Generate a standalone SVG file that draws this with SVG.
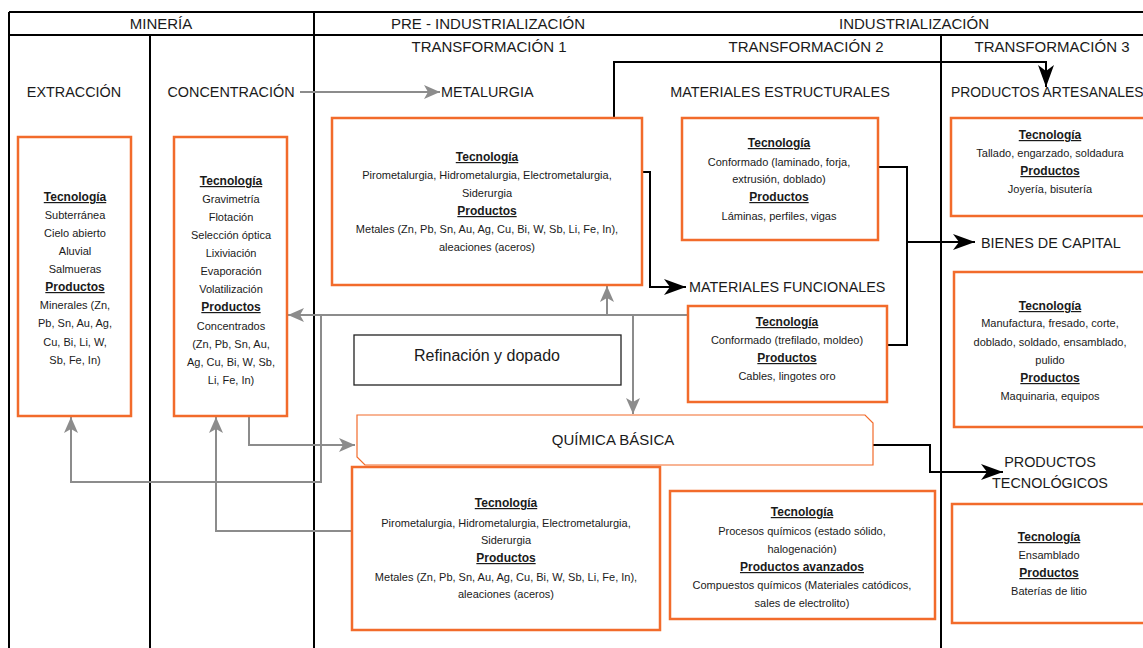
<svg xmlns="http://www.w3.org/2000/svg" width="1143" height="648" viewBox="0 0 1143 648">
<style>
text{font-family:"Liberation Sans",Arial,sans-serif;fill:#1a1a1a;text-anchor:middle}
.hd{font-size:15px}
.lb{font-size:14.4px}
.b{font-size:11px}
.h{font-size:12px;font-weight:bold;text-decoration:underline}
.box{fill:#fff;stroke:#F26B2B;stroke-width:2.5}
.frame{stroke:#000;stroke-width:2;fill:none}
.g{stroke:#8C8C8C;stroke-width:2;fill:none}
.k{stroke:#000;stroke-width:2;fill:none}
</style>
<defs>
<marker id="ag" markerUnits="userSpaceOnUse" markerWidth="18" markerHeight="16" refX="16" refY="7" orient="auto">
<path d="M0,0 L16,7 L0,14 L4,7 z" fill="#8C8C8C"/>
</marker>
<marker id="ak" markerUnits="userSpaceOnUse" markerWidth="24" markerHeight="18" refX="22" refY="8" orient="auto">
<path d="M0,0 L22,8 L0,16 L6,8 z" fill="#000"/>
</marker>
</defs>
<rect width="1143" height="648" fill="#fff"/>
<g id="frame" class="frame">
<path d="M9,12 H1143 M9,35 H1143 M9,12 V648 M150,35 V648 M314,12 V648 M941,35 V648"/>
</g>
<g id="headers">
<text class="hd" x="161" y="29">MINERÍA</text>
<text class="hd" x="488" y="29">PRE - INDUSTRIALIZACIÓN</text>
<text class="hd" x="914" y="29">INDUSTRIALIZACIÓN</text>
<text class="hd" x="489" y="52">TRANSFORMACIÓN 1</text>
<text class="hd" x="806" y="52">TRANSFORMACIÓN 2</text>
<text class="hd" x="1052" y="52">TRANSFORMACIÓN 3</text>
</g>
<g id="connectors">
<path class="g" d="M300,92 H440" marker-end="url(#ag)"/>
<path class="g" d="M688,315 H288" marker-end="url(#ag)"/>
<path class="g" d="M607,315 V286" marker-end="url(#ag)"/>
<path class="g" d="M633,315 V414" marker-end="url(#ag)"/>
<path class="g" d="M321,315 V482 H71 V417" marker-end="url(#ag)"/>
<path class="g" d="M249,416 V445 H355" marker-end="url(#ag)"/>
<path class="g" d="M352,531 H216 V417" marker-end="url(#ag)"/>
<path class="k" d="M614,118 V62 H1046 V87" marker-end="url(#ak)"/>
<path class="k" d="M642,172 H650 V287 H686" marker-end="url(#ak)"/>
<path class="k" d="M878,167 H907 V345 H887"/>
<path class="k" d="M907,242 H975" marker-end="url(#ak)"/>
<path class="k" d="M872,445 H930 V472 H1003" marker-end="url(#ak)"/>
</g>
<g id="extraccion">
<text class="lb" x="74" y="97">EXTRACCIÓN</text>
<rect class="box" x="18" y="137" width="113" height="279"/>
<text class="h" x="75" y="201">Tecnología</text>
<text class="b" x="75" y="219">Subterránea</text>
<text class="b" x="75" y="237">Cielo abierto</text>
<text class="b" x="75" y="255">Aluvial</text>
<text class="b" x="75" y="273">Salmueras</text>
<text class="h" x="75" y="291">Productos</text>
<text class="b" x="75" y="309">Minerales (Zn,</text>
<text class="b" x="75" y="327">Pb, Sn, Au, Ag,</text>
<text class="b" x="75" y="346">Cu, Bi, Li, W,</text>
<text class="b" x="75" y="364">Sb, Fe, In)</text>
</g>
<g id="concentracion">
<text class="lb" x="231" y="97">CONCENTRACIÓN</text>
<rect class="box" x="174" y="137" width="113" height="279"/>
<text class="h" x="231" y="185">Tecnología</text>
<text class="b" x="231" y="203">Gravimetría</text>
<text class="b" x="231" y="221">Flotación</text>
<text class="b" x="231" y="239">Selección óptica</text>
<text class="b" x="231" y="257">Lixiviación</text>
<text class="b" x="231" y="275">Evaporación</text>
<text class="b" x="231" y="293">Volatilización</text>
<text class="h" x="231" y="311">Productos</text>
<text class="b" x="231" y="330">Concentrados</text>
<text class="b" x="231" y="348">(Zn, Pb, Sn, Au,</text>
<text class="b" x="231" y="366">Ag, Cu, Bi, W, Sb,</text>
<text class="b" x="231" y="384">Li, Fe, In)</text>
</g>
<g id="metalurgia">
<text class="lb" x="441" y="97" style="text-anchor:start">METALURGIA</text>
<rect class="box" x="332" y="118" width="310" height="167"/>
<text class="h" x="487" y="161">Tecnología</text>
<text class="b" x="487" y="179">Pirometalurgia, Hidrometalurgia, Electrometalurgia,</text>
<text class="b" x="487" y="197">Siderurgia</text>
<text class="h" x="487" y="215">Productos</text>
<text class="b" x="487" y="233">Metales (Zn, Pb, Sn, Au, Ag, Cu, Bi, W, Sb, Li, Fe, In),</text>
<text class="b" x="487" y="251">aleaciones (aceros)</text>
</g>
<g id="mat-estructurales">
<text class="lb" x="780" y="97">MATERIALES ESTRUCTURALES</text>
<rect class="box" x="682" y="118" width="196" height="122"/>
<text class="h" x="779" y="147">Tecnología</text>
<text class="b" x="779" y="166">Conformado (laminado, forja,</text>
<text class="b" x="779" y="183">extrusión, doblado)</text>
<text class="h" x="779" y="201">Productos</text>
<text class="b" x="779" y="220">Láminas, perfiles, vigas</text>
</g>
<g id="prod-artesanales">
<text x="951" y="97" style="text-anchor:start;font-size:13.9px">PRODUCTOS ARTESANALES</text>
<rect class="box" x="951" y="118" width="200" height="98"/>
<text class="h" x="1050" y="139">Tecnología</text>
<text class="b" x="1050" y="157">Tallado, engarzado, soldadura</text>
<text class="h" x="1050" y="175">Productos</text>
<text class="b" x="1050" y="193">Joyería, bisutería</text>
</g>
<g id="bienes-capital">
<text class="lb" x="981" y="248" style="text-anchor:start">BIENES DE CAPITAL</text>
<rect class="box" x="954" y="272" width="200" height="155"/>
<text class="h" x="1050" y="310">Tecnología</text>
<text class="b" x="1050" y="327">Manufactura, fresado, corte,</text>
<text class="b" x="1050" y="346">doblado, soldado, ensamblado,</text>
<text class="b" x="1050" y="364">pulido</text>
<text class="h" x="1050" y="382">Productos</text>
<text class="b" x="1050" y="400">Maquinaria, equipos</text>
</g>
<g id="mat-funcionales">
<text class="lb" x="689" y="292" style="text-anchor:start">MATERIALES FUNCIONALES</text>
<rect class="box" x="688" y="306" width="199" height="96"/>
<text class="h" x="787" y="326">Tecnología</text>
<text class="b" x="787" y="344">Conformado (trefilado, moldeo)</text>
<text class="h" x="787" y="362">Productos</text>
<text class="b" x="787" y="380">Cables, lingotes oro</text>
</g>
<g id="refinacion">
<rect x="354" y="335" width="267" height="50" fill="#fff" stroke="#222" stroke-width="1.3"/>
<text x="487" y="361" style="font-size:16px">Refinación y dopado</text>
</g>
<g id="quimica-basica">
<polygon points="357,415 865,415 873,423 873,465 365,465 357,457" fill="#fff" stroke="#F26B2B" stroke-width="1.2"/>
<text x="613" y="444.5" style="font-size:15px">QUÍMICA BÁSICA</text>
</g>
<g id="metalurgia-2">
<rect class="box" x="352" y="467" width="308" height="163"/>
<text class="h" x="506" y="507">Tecnología</text>
<text class="b" x="506" y="527">Pirometalurgia, Hidrometalurgia, Electrometalurgia,</text>
<text class="b" x="506" y="544">Siderurgia</text>
<text class="h" x="506" y="562">Productos</text>
<text class="b" x="506" y="581">Metales (Zn, Pb, Sn, Au, Ag, Cu, Bi, W, Sb, Li, Fe, In),</text>
<text class="b" x="506" y="598">aleaciones (aceros)</text>
</g>
<g id="quimica">
<rect class="box" x="670" y="491" width="265" height="128"/>
<text class="h" x="802" y="516">Tecnología</text>
<text class="b" x="802" y="535">Procesos químicos (estado sólido,</text>
<text class="b" x="802" y="553">halogenación)</text>
<text class="h" x="802" y="571">Productos avanzados</text>
<text class="b" x="802" y="589">Compuestos químicos (Materiales catódicos,</text>
<text class="b" x="802" y="607">sales de electrolito)</text>
</g>
<g id="prod-tecnologicos">
<text class="lb" x="1050" y="467">PRODUCTOS</text>
<text class="lb" x="1050" y="488">TECNOLÓGICOS</text>
<rect class="box" x="952" y="504" width="200" height="119"/>
<text class="h" x="1049" y="541">Tecnología</text>
<text class="b" x="1049" y="559">Ensamblado</text>
<text class="h" x="1049" y="577">Productos</text>
<text class="b" x="1049" y="595">Baterías de litio</text>
</g>
</svg>
